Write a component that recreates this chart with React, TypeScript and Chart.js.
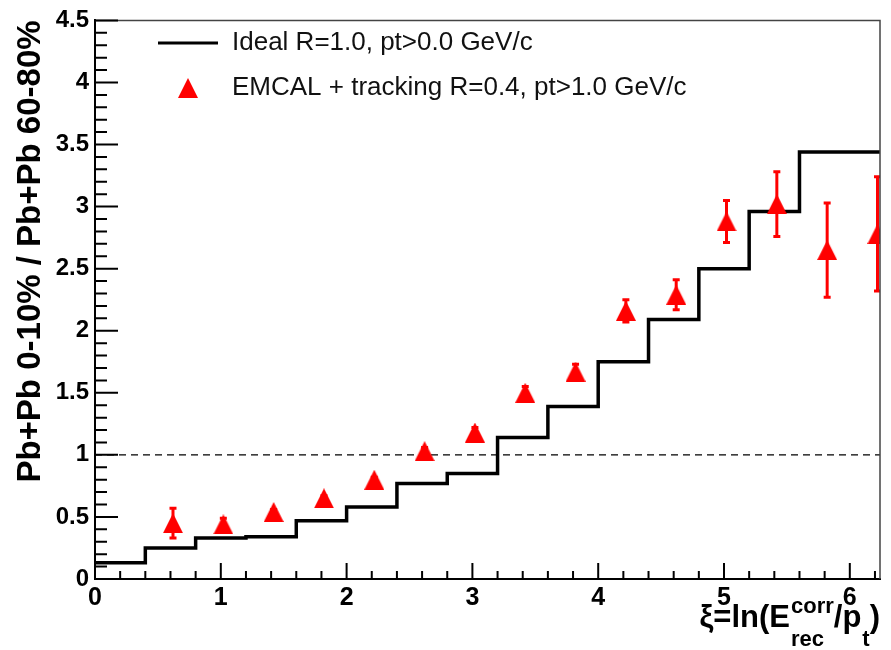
import React, { useEffect, useRef } from "react";
import { Chart, registerables } from "chart.js";

Chart.register(...registerables);

// ---- data ----
const binEdges = [0, 0.4, 0.8, 1.2, 1.6, 2.0, 2.4, 2.8, 3.2, 3.6, 4.0, 4.4, 4.8, 5.2, 5.6, 6.0, 6.4];
const idealValues = [0.13, 0.25, 0.33, 0.34, 0.47, 0.58, 0.77, 0.85, 1.14, 1.39, 1.75, 2.09, 2.5, 2.96, 3.44, 3.44];
const emcalX = [0.62, 1.02, 1.42, 1.82, 2.22, 2.62, 3.02, 3.42, 3.82, 4.22, 4.62, 5.02, 5.42, 5.82, 6.22];
const emcalY = [0.45, 0.44, 0.54, 0.65, 0.8, 1.03, 1.18, 1.5, 1.67, 2.16, 2.29, 2.88, 3.02, 2.65, 2.78];
const emcalErr = [0.12, 0.05, 0.02, 0.02, 0.02, 0.03, 0.04, 0.05, 0.06, 0.09, 0.12, 0.17, 0.26, 0.38, 0.46];
const refLineX = [0, 6.24];
const refLineY = [1, 1];
const xRange = [0, 6.24];
const yRange = [0, 4.5];
const legendLabels = ["Ideal R=1.0, pt>0.0 GeV/c", "EMCAL + tracking R=0.4, pt>1.0 GeV/c"];
const yTitle = "Pb+Pb 0-10% / Pb+Pb 60-80%";
const xTitleParts = { main: "\u03be=ln(E", sup: "corr", sub: "rec", mid: "/p", sub2: "t", end: ")" };

const RED = "#ff0000";
const FONT = "'Liberation Sans', Arial, Helvetica, sans-serif";

function makeTriangle(size: number, color: string) {
  const c = document.createElement("canvas");
  c.width = size;
  c.height = size;
  const g = c.getContext("2d")!;
  g.fillStyle = color;
  g.beginPath();
  g.moveTo(size / 2, 0);
  g.lineTo(size, size);
  g.lineTo(0, size);
  g.closePath();
  g.fill();
  return c;
}

export default function App() {
  const ref = useRef<HTMLCanvasElement>(null);

  useEffect(() => {
    const tri = makeTriangle(20, RED);

    const idealData = binEdges.map((e, i) => ({ x: e, y: idealValues[Math.min(i, idealValues.length - 1)] }));
    const emcalData = emcalX.map((x, i) => ({ x, y: emcalY[i] }));
    const refData = refLineX.map((x, i) => ({ x, y: refLineY[i] }));

    const framePlugin = {
      id: "frame",
      afterDraw(chart: any) {
        const { ctx, chartArea: a, scales } = chart;
        const xs = scales.x;
        const ys = scales.y;
        ctx.save();
        // frame (top/right)
        ctx.strokeStyle = "#444";
        ctx.lineWidth = 1.5;
        ctx.beginPath();
        ctx.moveTo(a.left, a.top);
        ctx.lineTo(a.right, a.top);
        ctx.lineTo(a.right, a.bottom);
        ctx.stroke();
        // inside ticks
        ctx.strokeStyle = "#000";
        ctx.lineWidth = 2;
        ctx.beginPath();
        for (let i = 0; i * 0.1 <= yRange[1] + 1e-9; i++) {
          const py = ys.getPixelForValue(i * 0.1);
          const len = i % 5 === 0 ? 23 : 12;
          ctx.moveTo(a.left, py);
          ctx.lineTo(a.left + len, py);
        }
        for (let i = 0; i * 0.2 <= xRange[1] + 1e-9; i++) {
          const px = xs.getPixelForValue(i * 0.2);
          const len = i % 5 === 0 ? 16 : 8;
          ctx.moveTo(px, a.bottom);
          ctx.lineTo(px, a.bottom - len);
        }
        ctx.stroke();

        // x title with sub/superscripts
        const mainF = `bold 31px ${FONT}`;
        const smallF = `bold 22px ${FONT}`;
        ctx.fillStyle = "#000";
        ctx.textBaseline = "alphabetic";
        ctx.textAlign = "left";
        ctx.font = mainF;
        const wMain = ctx.measureText(xTitleParts.main).width;
        const wMid = ctx.measureText(xTitleParts.mid).width;
        const wEnd = ctx.measureText(xTitleParts.end).width;
        ctx.font = smallF;
        const wSup = ctx.measureText(xTitleParts.sup).width;
        const wSub = ctx.measureText(xTitleParts.sub).width;
        const wSub2 = ctx.measureText(xTitleParts.sub2).width;
        const wStack = Math.max(wSup, wSub);
        const total = wMain + wStack + wMid + wSub2 + wEnd + 2;
        let x = a.right - total;
        const base = 627;
        ctx.font = mainF;
        ctx.fillText(xTitleParts.main, x, base);
        x += wMain + 1;
        ctx.font = smallF;
        ctx.fillText(xTitleParts.sup, x, base - 14);
        ctx.fillText(xTitleParts.sub, x, base + 19);
        x += wStack;
        ctx.font = mainF;
        ctx.fillText(xTitleParts.mid, x, base);
        x += wMid + 1;
        ctx.font = smallF;
        ctx.fillText(xTitleParts.sub2, x, base + 19);
        x += wSub2;
        ctx.font = mainF;
        ctx.fillText(xTitleParts.end, x, base);

        // legend
        ctx.font = `26px ${FONT}`;
        ctx.fillStyle = "#111";
        ctx.textBaseline = "middle";
        ctx.fillText(legendLabels[0], 232, 43);
        ctx.fillText(legendLabels[1], 232, 88);
        ctx.strokeStyle = "#000";
        ctx.lineWidth = 3;
        ctx.beginPath();
        ctx.moveTo(158, 43);
        ctx.lineTo(218, 43);
        ctx.stroke();
        ctx.drawImage(tri, 188 - 10, 88 - 10);
        ctx.restore();
      },
      afterDatasetsDraw(chart: any) {
        const { ctx, scales, chartArea: a } = chart;
        const xs = scales.x;
        const ys = scales.y;
        ctx.save();
        ctx.beginPath();
        ctx.rect(a.left, a.top, a.right - a.left, a.bottom - a.top);
        ctx.clip();
        ctx.strokeStyle = RED;
        ctx.lineWidth = 3;
        ctx.beginPath();
        emcalX.forEach((xv, i) => {
          const px = xs.getPixelForValue(xv);
          const top = ys.getPixelForValue(emcalY[i] + emcalErr[i]);
          const bot = ys.getPixelForValue(emcalY[i] - emcalErr[i]);
          ctx.moveTo(px, top);
          ctx.lineTo(px, bot);
          ctx.moveTo(px - 3.5, top);
          ctx.lineTo(px + 3.5, top);
          ctx.moveTo(px - 3.5, bot);
          ctx.lineTo(px + 3.5, bot);
        });
        ctx.stroke();
        ctx.restore();
      },
    };

    const chart = new Chart(ref.current!, {
      type: "line",
      data: {
        datasets: [
          {
            label: legendLabels[1],
            data: emcalData,
            showLine: false,
            pointStyle: tri as any,
            pointRadius: 10,
            backgroundColor: RED,
            borderColor: RED,
            order: 0,
          },
          {
            label: legendLabels[0],
            data: idealData,
            stepped: "before",
            borderColor: "#000",
            borderWidth: 3.5,
            pointRadius: 0,
            fill: false,
            order: 1,
          },
          {
            label: "ref",
            data: refData,
            borderColor: "#000",
            borderWidth: 1.3,
            borderDash: [7, 5],
            pointRadius: 0,
            fill: false,
            order: 2,
          },
        ],
      },
      options: {
        animation: false,
        responsive: true,
        maintainAspectRatio: false,
        layout: { padding: { top: 11, right: 3, left: 0, bottom: 0 } },
        plugins: {
          legend: { display: false },
          tooltip: { enabled: false },
        },
        scales: {
          x: {
            type: "linear",
            min: xRange[0],
            max: xRange[1],
            afterFit: (s: any) => {
              s.height = 71;
            },
            ticks: {
              stepSize: 1,
              includeBounds: false,
              maxRotation: 0,
              autoSkip: false,
              color: "#000",
              padding: 4,
              font: { family: FONT, size: 25, weight: "bold" },
              callback: (v: any) => String(Number(v)),
            },
            grid: { display: false, drawTicks: false },
            border: { display: true, color: "#000", width: 2 },
            title: { display: false },
          },
          y: {
            type: "linear",
            min: yRange[0],
            max: yRange[1],
            afterFit: (s: any) => {
              s.width = 95;
            },
            ticks: {
              stepSize: 0.5,
              includeBounds: false,
              color: "#000",
              padding: 6,
              font: { family: FONT, size: 24, weight: "bold" },
              callback: (v: any) => String(Number(v)),
            },
            grid: { display: false, drawTicks: false },
            border: { display: true, color: "#000", width: 2 },
            title: {
              display: true,
              text: yTitle,
              align: "end",
              color: "#000",
              font: { family: FONT, size: 33, weight: "bold" },
              padding: { top: 11, bottom: 0 },
            },
          },
        },
      } as any,
      plugins: [framePlugin],
    });
    return () => chart.destroy();
  }, []);

  return (
    <div style={{ position: "fixed", left: 0, top: 0, width: 891, height: 650, background: "#fff" }}>
      <canvas ref={ref} />
    </div>
  );
}
